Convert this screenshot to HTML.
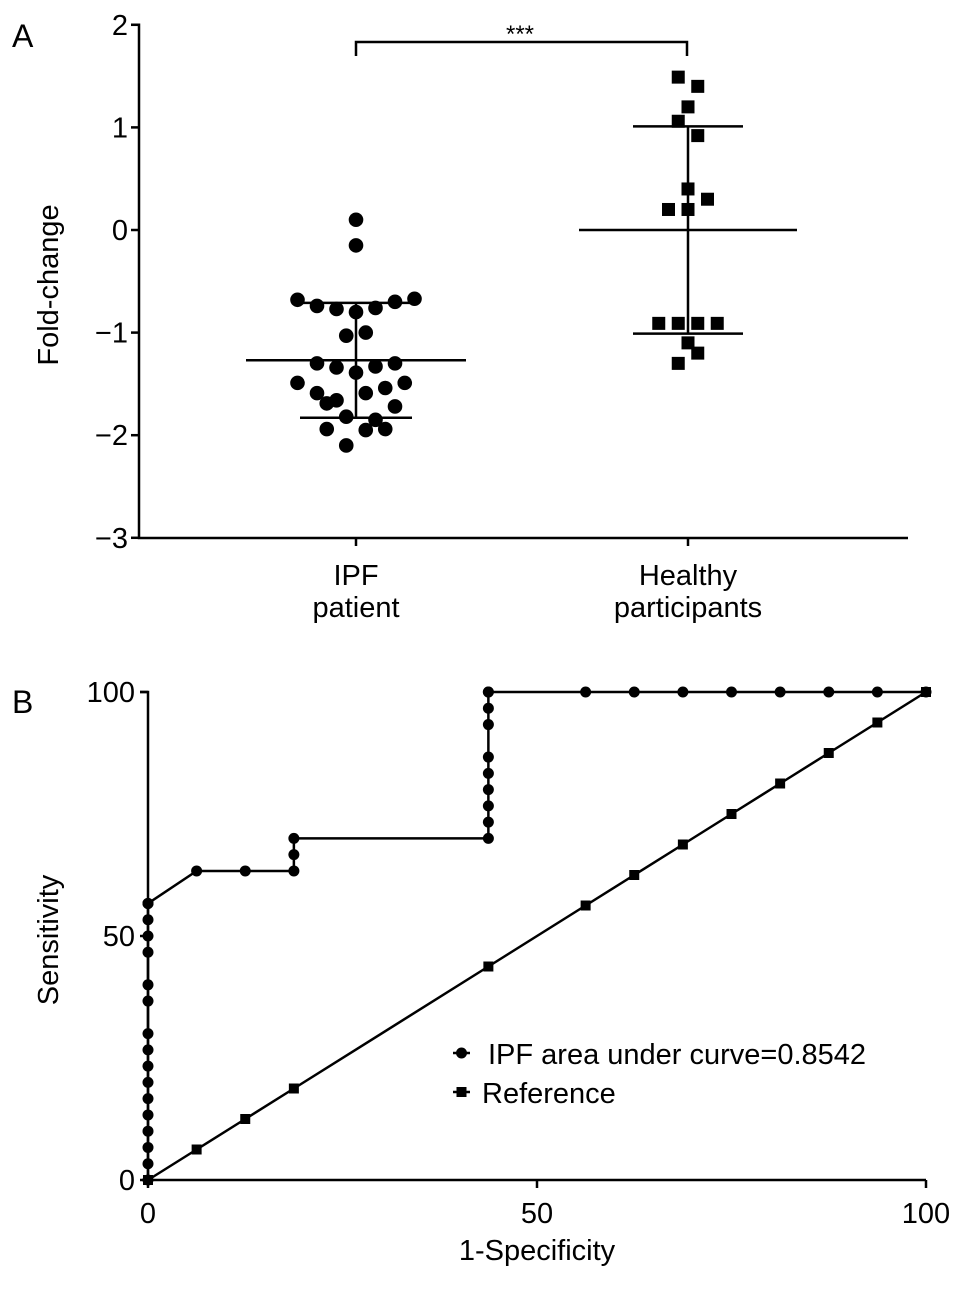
<!DOCTYPE html>
<html><head><meta charset="utf-8"><style>
html,body{margin:0;padding:0;background:#fff;}
svg{display:block;font-family:"Liberation Sans",Arial,sans-serif;}
</style></head><body>
<svg id="fig" width="969" height="1309" viewBox="0 0 969 1309" xmlns="http://www.w3.org/2000/svg">
<g id="panelA"></g>
<g id="panelB"></g>
</svg>
<script>
// ---- Panel A data ----
const groupNames = ["IPF patient", "Healthy participants"];
const ipfValues = [0.10,-0.15,-0.68,-0.74,-0.77,-0.80,-0.76,-0.70,-0.67,-1.03,-1.00,-1.30,-1.34,-1.39,-1.33,-1.30,-1.49,-1.59,-1.69,-1.66,-1.59,-1.54,-1.49,-1.72,-1.82,-1.85,-1.94,-1.95,-1.94,-2.10];
const ipfJitter = [0,0,-3,-2,-1,0,1,2,3,-0.5,0.5,-2,-1,0,1,2,-3,-2,-1.5,-1,0.5,1.5,2.5,2,-0.5,1,-1.5,0.5,1.5,-0.5];
const healthyValues = [1.49,1.40,1.20,1.06,0.92,0.40,0.30,0.20,0.20,-0.91,-0.91,-0.91,-0.91,-1.10,-1.20,-1.30];
const healthyJitter = [-0.5,0.5,0,-0.5,0.5,0,1,-1,0,-1.5,-0.5,0.5,1.5,0,0.5,-0.5];
const ipfStats = {mean:-1.27, sdHi:-0.71, sdLo:-1.83};
const healthyStats = {mean:0.0, sdHi:1.01, sdLo:-1.01};
const yTicksA = [2,1,0,-1,-2,-3];
const yTickLabelsA = ["2","1","0","\u22121","\u22122","\u22123"];

// ---- Panel B data ----
const rocX = [0,0,0,0,0,0,0,0,0,0,0,0,0,0,0,0,0,0,6.25,12.5,18.75,18.75,18.75,43.75,43.75,43.75,43.75,43.75,43.75,43.75,43.75,43.75,43.75,56.25,62.5,68.75,75,81.25,87.5,93.75,100];
const rocY = [0,3.33,6.67,10,13.33,16.67,20,23.33,26.67,30,36.67,40,46.67,50,53.33,56.67,56.67,56.67,63.33,63.33,63.33,66.67,70,70,73.33,76.67,80,83.33,86.67,93.33,96.67,100,100,100,100,100,100,100,100,100,100];
const refX = [0,6.25,12.5,18.75,43.75,56.25,62.5,68.75,75,81.25,87.5,93.75,100];
const refY = [0,6.25,12.5,18.75,43.75,56.25,62.5,68.75,75,81.25,87.5,93.75,100];
const xTicksB = [0,50,100];
const yTicksB = [0,50,100];

const NS="http://www.w3.org/2000/svg";
function mk(parent,tag,attrs,text){const e=document.createElementNS(NS,tag);for(const k in attrs)e.setAttribute(k,attrs[k]);if(text!==undefined)e.textContent=text;parent.appendChild(e);return e;}

// Panel A
const A=document.getElementById('panelA');
const yA=v=>230-v*102.6;
const xGroup=[356,688];
let t=mk(A,'text',{x:12,y:47,'font-size':32});t.textContent='A';


let ax=mk(A,'path',{d:`M131 ${yA(2)} H139 V538 H908`,fill:'none',stroke:'#000','stroke-width':2.5});


yTicksA.forEach((v,i)=>{
  mk(A,'line',{x1:131,x2:139,y1:yA(v),y2:yA(v),stroke:'#000','stroke-width':2.5});
  const l=mk(A,'text',{x:128,y:yA(v)+10,'font-size':29,'text-anchor':'end'},yTickLabelsA[i]);
  
  
});
xGroup.forEach((x,i)=>{
  mk(A,'line',{x1:x,x2:x,y1:538,y2:546,stroke:'#000','stroke-width':2.5});
  const parts=i===0?["IPF","patient"]:["Healthy","participants"];
  const l=mk(A,'text',{x:x,y:585,'font-size':29,'text-anchor':'middle'});
  
  
  mk(l,'tspan',{x:x,dy:0},parts[0]);mk(l,'tspan',{x:x,dy:32},parts[1]);
});
let yt=mk(A,'text',{transform:'translate(58,285) rotate(-90)','font-size':29,'text-anchor':'middle'},'Fold-change');


// significance
let br=mk(A,'path',{d:'M356 56 V42 H687 V56',fill:'none',stroke:'#000','stroke-width':2.5});


let st=mk(A,'text',{x:520,y:42,'font-size':24,'text-anchor':'middle'},'***');


// stats
function stats(s,x,hw,sw){
  mk(A,'line',{x1:x,x2:x,y1:yA(s.sdHi),y2:yA(s.sdLo),stroke:'#000','stroke-width':2.5});
  const m=mk(A,'line',{x1:x-hw,x2:x+hw,y1:yA(s.mean),y2:yA(s.mean),stroke:'#000','stroke-width':2.5});
  
  
  [s.sdHi,s.sdLo].forEach(v=>{const e=mk(A,'line',{x1:x-sw,x2:x+sw,y1:yA(v),y2:yA(v),stroke:'#000','stroke-width':2.5});
    
    });
}
ipfValues.forEach((v,i)=>{const c=mk(A,'circle',{cx:xGroup[0]+ipfJitter[i]*19.5,cy:yA(v),r:7.3,fill:'#000'});
  
  });
healthyValues.forEach((v,i)=>{const c=mk(A,'rect',{x:xGroup[1]+healthyJitter[i]*19.5-6.5,y:yA(v)-6.5,width:13,height:13,fill:'#000'});
  
  });
stats(ipfStats,xGroup[0],110,56);
stats(healthyStats,xGroup[1],109,55);

// Panel B
const B=document.getElementById('panelB');
const xB=v=>148+v*7.78, yB=v=>1180-v*4.88;
t=mk(B,'text',{x:12,y:713,'font-size':32},'B');


ax=mk(B,'path',{d:`M140 ${yB(100)} H148 V1180 H${xB(100)}`,fill:'none',stroke:'#000','stroke-width':2.5});


yTicksB.forEach(v=>{mk(B,'line',{x1:140,x2:148,y1:yB(v),y2:yB(v),stroke:'#000','stroke-width':2.5});
  const l=mk(B,'text',{x:135,y:yB(v)+10,'font-size':29,'text-anchor':'end'},String(v));
  
  });
xTicksB.forEach(v=>{mk(B,'line',{x1:xB(v),x2:xB(v),y1:1180,y2:1188,stroke:'#000','stroke-width':2.5});
  const l=mk(B,'text',{x:xB(v),y:1223,'font-size':29,'text-anchor':'middle'},String(v));
  
  });
let xt=mk(B,'text',{x:xB(50),y:1260,'font-size':29,'text-anchor':'middle'},'1-Specificity');


yt=mk(B,'text',{transform:'translate(58,940) rotate(-90)','font-size':29,'text-anchor':'middle'},'Sensitivity');


let rl=mk(B,'polyline',{points:refX.map((x,i)=>xB(x)+','+yB(refY[i])).join(' '),fill:'none',stroke:'#000','stroke-width':2.5});


refX.forEach((x,i)=>{const r=mk(B,'rect',{x:xB(x)-5,y:yB(refY[i])-5,width:10,height:10,fill:'#000'});
  
  });
let rc=mk(B,'polyline',{points:rocX.map((x,i)=>xB(x)+','+yB(rocY[i])).join(' '),fill:'none',stroke:'#000','stroke-width':2.5});


rocX.forEach((x,i)=>{const c=mk(B,'circle',{cx:xB(x),cy:yB(rocY[i]),r:5.5,fill:'#000'});
  
  });
// legend
const lg=mk(B,'g',{});


mk(lg,'line',{x1:453,x2:470,y1:1053,y2:1053,stroke:'#000','stroke-width':2.5});
mk(lg,'circle',{cx:461.5,cy:1053,r:5.5,fill:'#000'});
let le=mk(lg,'text',{x:488,y:1064,'font-size':29},'IPF area under curve=0.8542');


mk(lg,'line',{x1:453,x2:470,y1:1092,y2:1092,stroke:'#000','stroke-width':2.5});
mk(lg,'rect',{x:456.5,y:1087,width:10,height:10,fill:'#000'});
le=mk(lg,'text',{x:482,y:1103,'font-size':29},'Reference');


</script>
</body></html>
